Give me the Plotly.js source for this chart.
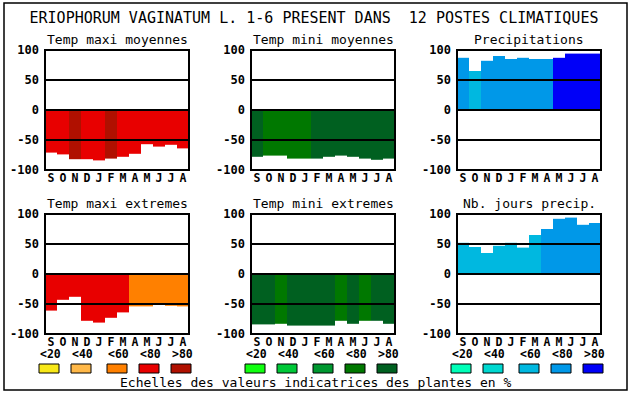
<!DOCTYPE html>
<html><head><meta charset="utf-8">
<script src="https://cdn.plot.ly/plotly-3.0.1.min.js"></script>
<style>html,body{margin:0;padding:0;background:#fff}#chart{width:630px;height:394px}</style>
</head><body><div id="chart"></div>
<script>
const months = ['S','O','N','D','J','F','M','A','M','J','J','A'];
const tickVals = [100, 50, 0, -50, -100];
const gridVals = [50, 0, -50];
const legendLabels = ['<20','<40','<60','<80','>80'];

const tempMaxiMoy = [-71,-74,-82,-82,-84,-81,-78,-73,-57,-61,-58,-64];
const tempMaxiMoyClass = [3,3,4,3,3,4,3,3,3,3,3,3];
const tempMiniMoy = [-78,-76,-76,-81,-81,-81,-78,-76,-78,-81,-83,-81];
const tempMiniMoyClass = [4,3,3,3,3,4,4,4,4,4,4,4];
const precip = [87,65,82,90,85,87,85,85,87,94,94,94];
const precipClass = [3,2,3,3,3,3,3,3,4,4,4,4];
const tempMaxiExt = [-61,-43,-38,-78,-81,-73,-64,-54,-54,-51,-53,-54];
const tempMaxiExtClass = [3,3,3,3,3,3,3,2,2,2,2,2];
const tempMiniExt = [-84,-84,-83,-86,-86,-86,-86,-78,-83,-78,-78,-83];
const tempMiniExtClass = [4,4,3,4,4,4,4,3,4,3,4,4];
const joursPrecip = [52,45,35,47,52,44,65,75,92,94,82,85];
const joursPrecipClass = [2,2,2,2,2,2,2,3,3,3,3,3];

const warmScale = ['#f8e818','#ffb848','#ff8000','#e80000','#b01000'];
const greenScale = ['#10ff10','#00c838','#009830','#007800','#006020'];
const blueScale = ['#00ffb8','#00d8d0','#00b8e0','#0098e8','#0000f8'];

const W = 630, H = 394;
const px = x => x / W;
const py = y => 1 - y / H;
const colLeft = [45, 251, 457];
const plotW = 144;
const rowTop = [50, 214];
const plotH = 120;

const panels = [
  {title:'Temp maxi moyennes', vals:tempMaxiMoy, cls:tempMaxiMoyClass, scale:warmScale, col:0, row:0},
  {title:'Temp mini moyennes', vals:tempMiniMoy, cls:tempMiniMoyClass, scale:greenScale, col:1, row:0},
  {title:'Precipitations', vals:precip, cls:precipClass, scale:blueScale, col:2, row:0},
  {title:'Temp maxi extremes', vals:tempMaxiExt, cls:tempMaxiExtClass, scale:warmScale, col:0, row:1},
  {title:'Temp mini extremes', vals:tempMiniExt, cls:tempMiniExtClass, scale:greenScale, col:1, row:1},
  {title:'Nb. jours precip.', vals:joursPrecip, cls:joursPrecipClass, scale:blueScale, col:2, row:1}
];

const mono = 'DejaVu Sans Mono, monospace';
const traces = [];
const layout = {
  width: W, height: H,
  margin: {l:0, r:0, t:0, b:0},
  paper_bgcolor: '#fff', plot_bgcolor: '#fff',
  showlegend: false,
  title: {text: 'ERIOPHORUM VAGINATUM L. 1-6 PRESENT DANS\u00a0\u00a012 POSTES CLIMATIQUES',
          font: {family: mono, size: 15, color: '#000'},
          x: px(314), xanchor: 'center', xref: 'paper', y: py(18), yanchor: 'middle', yref: 'paper'},
  shapes: [],
  annotations: []
};

panels.forEach((p, i) => {
  const n = i + 1;
  const xa = 'x' + (n === 1 ? '' : n), ya = 'y' + (n === 1 ? '' : n);
  const xKey = 'xaxis' + (n === 1 ? '' : n), yKey = 'yaxis' + (n === 1 ? '' : n);
  traces.push({
    type: 'bar', x: months.map((m, k) => k), y: p.vals, base: 0,
    marker: {color: p.cls.map(c => p.scale[c]), line: {width: 0}},
    xaxis: xa, yaxis: ya, width: 1, hoverinfo: 'skip'
  });
  const l = colLeft[p.col], t = rowTop[p.row];
  layout[xKey] = {
    domain: [px(l), px(l + plotW)], anchor: 'free', position: py(t + plotH - 1), range: [-0.5, 11.5],
    tickmode: 'array', tickvals: months.map((m, k) => k), ticktext: months,
    tickfont: {family: mono, size: 11.5, color: '#000', weight: 'bold'},
    showgrid: false, zeroline: false, showline: false, ticks: '', fixedrange: true
  };
  layout[yKey] = {
    domain: [py(t + plotH), py(t)], anchor: xa, range: [-100, 100],
    tickmode: 'array', tickvals: tickVals, ticktext: tickVals.map(String),
    tickfont: {family: mono, size: 12, color: '#000', weight: 'bold'},
    ticklabelstandoff: 5,
    showgrid: false, zeroline: false, showline: false, ticks: '', fixedrange: true
  };
  gridVals.forEach(g => {
    layout.shapes.push({type:'line', xref: xa + ' domain', yref: ya, x0: 0, x1: 1, y0: g, y1: g,
      line: {color: '#000', width: 2}, layer: 'above'});
  });
  layout.shapes.push({type:'rect', xref: xa + ' domain', yref: ya + ' domain', x0: 0, x1: 1, y0: 0, y1: 1,
    line: {color: '#000', width: 2}, fillcolor: 'rgba(0,0,0,0)', layer: 'above'});
  layout.annotations.push({
    text: p.title, xref: 'paper', yref: 'paper', x: px(l + plotW / 2), y: py(t - 11),
    xanchor: 'center', yanchor: 'middle', showarrow: false,
    font: {family: mono, size: 13, color: '#000'}
  });
});

// legend scales below each column
const colScales = [warmScale, greenScale, blueScale];
const boxOffsets = [0, 32, 68, 100, 132];
colLeft.forEach((l, c) => {
  boxOffsets.forEach((o, k) => {
    const x0 = l - 6 + o;
    layout.shapes.push({type:'rect', xref:'paper', yref:'paper',
      x0: px(x0), x1: px(x0 + 20), y0: py(373), y1: py(364),
      fillcolor: colScales[c][k], line: {color:'#000', width:1}});
    layout.annotations.push({text: legendLabels[k], xref:'paper', yref:'paper',
      x: px(x0 - 1), y: py(354), xanchor:'left', yanchor:'middle', showarrow:false,
      font: {family: mono, size: 11.5, color:'#000', weight:'bold'}});
  });
});

layout.annotations.push({text: 'Echelles des valeurs indicatrices des plantes en %',
  xref:'paper', yref:'paper', x: px(316), y: py(382), xanchor:'center', yanchor:'middle',
  showarrow:false, font:{family: mono, size: 13, color:'#000'}});

// outer frame
layout.shapes.push({type:'rect', xref:'paper', yref:'paper', x0: px(4), x1: px(627), y0: py(390), y1: py(3),
  line:{color:'#000', width:1.5}, fillcolor:'rgba(0,0,0,0)'});

Plotly.newPlot('chart', traces, layout, {staticPlot: true, displayModeBar: false});
</script>
</body></html>
